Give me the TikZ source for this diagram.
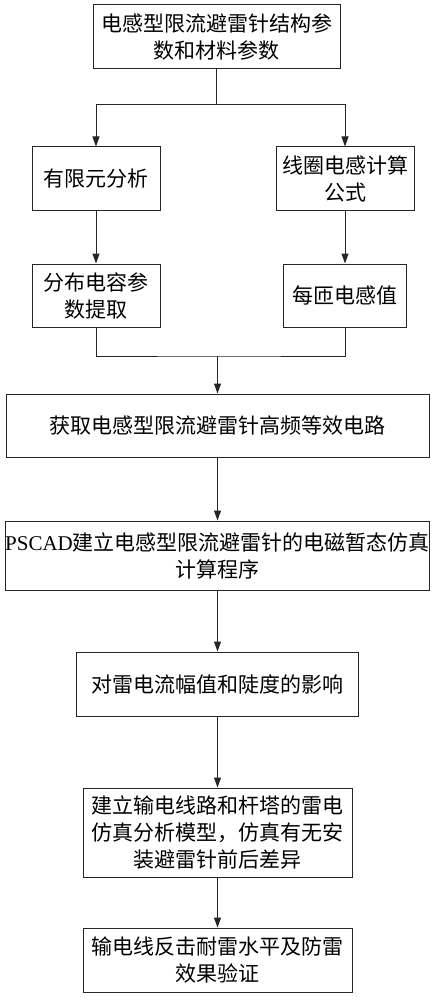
\documentclass[tikz,border=0pt]{standalone}
\usepackage{fontspec}
\setmainfont{Liberation Serif}
\newfontfamily\cjk{Noto Sans CJK SC}
\usetikzlibrary{arrows.meta}
\tikzset{
  box/.style={draw=black!85, line width=1pt, rectangle, align=center, inner sep=0pt,
    font=\fontsize{21}{27}\selectfont\cjk},
  arr/.style={draw=black!85, line width=1pt, -{Triangle[length=10pt,width=7pt]}},
  ln/.style={draw=black!85, line width=1pt}
}
\begin{document}
\begin{tikzpicture}[x=1pt,y=-1pt]
\useasboundingbox (0,0) rectangle (437,1000);
\node[box, minimum width=247, minimum height=64] (top) at (216.5,37) {电感型限流避雷针结构参\\数和材料参数};
\node[box, minimum width=128, minimum height=64] (l1) at (96,179) {有限元分析};
\node[box, minimum width=138, minimum height=64] (r1) at (345,179) {线圈电感计算\\公式};
\node[box, minimum width=128, minimum height=63] (l2) at (96,295.5) {分布电容参\\数提取};
\node[box, minimum width=123, minimum height=63] (r2) at (345,295.5) {每匝电感值};
\node[box, minimum width=423, minimum height=63] (b4) at (217.5,425.5) {获取电感型限流避雷针高频等效电路};
\node[box, minimum width=424, minimum height=69] (b5) at (217.5,555.5) {{\rmfamily PSCAD}建立电感型限流避雷针的电磁暂态仿真\\计算程序};
\node[box, minimum width=282, minimum height=64] (b6) at (217.5,684) {对雷电流幅值和陡度的影响};
\node[box, minimum width=269, minimum height=89] (b7) at (217.5,832.5) {建立输电线路和杆塔的雷电\\仿真分析模型，仿真有无安\\装避雷针前后差异};
\node[box, minimum width=269, minimum height=64] (b8) at (217.5,960) {输电线反击耐雷水平及防雷\\效果验证};
\coordinate (j1) at (216.5,105);
\coordinate (j2) at (217.5,356);
\draw[ln] (top) -- (j1);
\draw[arr] (j1) -| (l1);
\draw[arr] (j1) -| (r1);
\draw[arr] (l1) -- (l2);
\draw[arr] (r1) -- (r2);
\draw[ln] (l2) |- (j2) -| (r2);
\draw[arr] (j2) -- (b4);
\draw[arr] (b4) -- (b5);
\draw[arr] (b5) -- (b6);
\draw[arr] (b6) -- (b7);
\draw[arr] (b7) -- (b8);
\end{tikzpicture}
\end{document}
